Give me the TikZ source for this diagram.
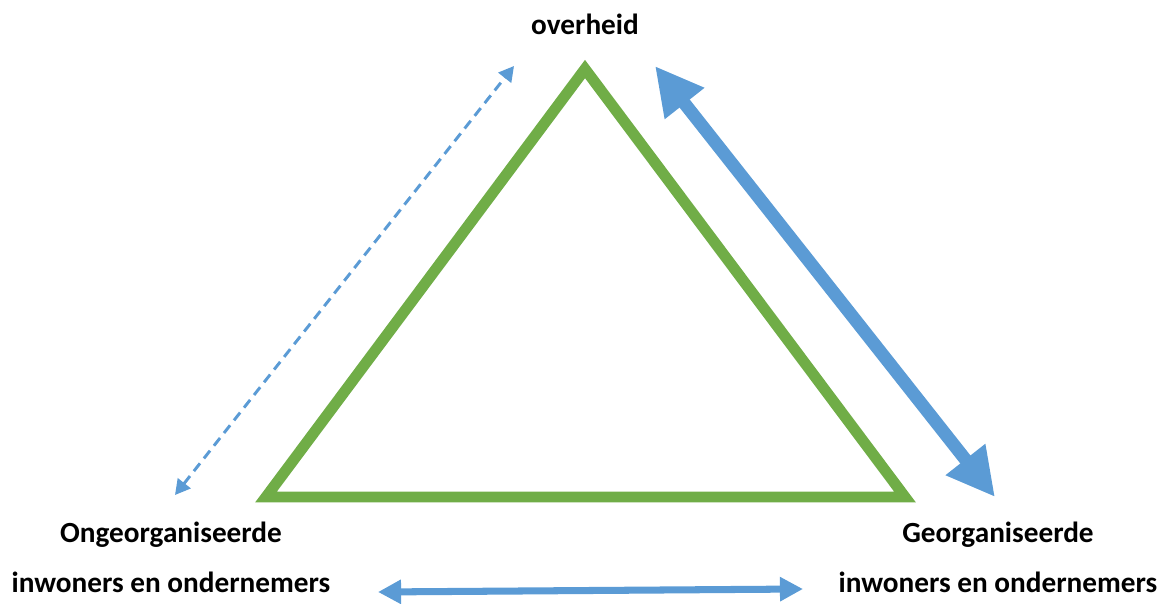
\documentclass[tikz,border=0pt]{standalone}
\usepackage{fontspec}
\setmainfont{Carlito}
\usetikzlibrary{arrows.meta}
\definecolor{groen}{RGB}{112,173,71}
\definecolor{blauw}{RGB}{91,155,213}

\begin{document}
\begin{tikzpicture}[x=0.025cm,y=-0.025cm,every node/.style={font=\fontsize{20.8}{25}\selectfont\bfseries,inner sep=0pt,anchor=base},
  side/.style={draw=groen,line width=7.8pt,line join=miter},
  weak/.style={blauw,line width=2.1pt,dash pattern=on 7pt off 4.5pt,{Triangle[length=10.7pt,width=11.4pt]}-{Triangle[length=10.7pt,width=11.4pt]}},
  strong/.style={blauw,line width=9.2pt,{Triangle[length=34pt,width=33.5pt]}-{Triangle[length=34pt,width=33.5pt]}},
  flat/.style={blauw,line width=5pt,{Triangle[length=16.4pt,width=16.4pt]}-{Triangle[length=16.4pt,width=16.4pt]}}]
  \useasboundingbox (0,0) rectangle (1165,604);

	\node (overheid)  at (585,35)  {overheid};
	\node (ongeorg)   at (171,542) {Ongeorganiseerde};
	\node (ongeorgiw) at (171,592) {inwoners en ondernemers};
	\node (georg)     at (998,542) {Georganiseerde};
	\node (georgiw)   at (998,592) {inwoners en ondernemers};

	% triangle
	\coordinate (top)   at (585,69);
	\coordinate (left)  at (266,497);
	\coordinate (right) at (905,497);
	\draw[side] (top) -- (left) -- (right) -- cycle;

	% arrows
	\coordinate (weakb)   at (175,495);
	\coordinate (weakt)   at (514,66);
	\coordinate (strongt) at (655,66);
	\coordinate (strongb) at (995,497);
	\coordinate (flatl)   at (378,592);
	\coordinate (flatr)   at (803,589);
	\draw[weak]   (weakb) -- (weakt);
	\draw[strong] (strongt) -- (strongb);
	\draw[flat]   (flatl) -- (flatr);

\end{tikzpicture}
\end{document}
